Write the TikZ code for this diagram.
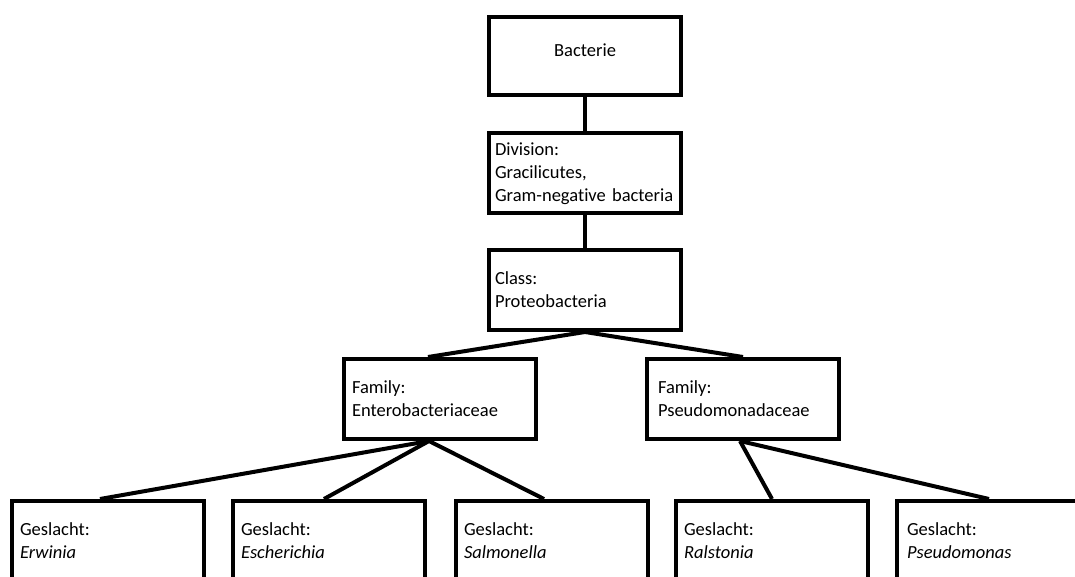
\documentclass[tikz,border=0pt]{standalone}
\usepackage{fontspec}
\setmainfont{Carlito}[Ligatures=NoCommon]
\usetikzlibrary{positioning}

\begin{document}
\begin{tikzpicture}[
  x=1pt, y=-1pt,
  box/.style={rectangle, draw, line width=4pt, minimum height=80pt, text width=180pt,
    inner xsep=6pt, inner ysep=0pt, align=left, font=\fontsize{18.5}{23}\selectfont},
  lowbox/.style={box, text width=176pt, inner xsep=8pt},
  link/.style={line width=4pt}
]
  \useasboundingbox (0,0) rectangle (1075,577);
  \clip (0,0) rectangle (1075,577);

  % top of the tree
  \node[box, align=center, minimum height=78pt, text depth=11pt] (bacterie) at (585,56) {Bacterie};
  \node[box] (division) at (585,173.5) {Division:\\Gracilicutes,\\Gram-negative bacteria};
  \node[box] (class) at (585,290) {Class:\\Proteobacteria};

  % families
  \node[lowbox] (entero) at (440,399) {Family:\\Enterobacteriaceae};
  \node[lowbox, inner xsep=11pt, text width=170pt] (pseudofam) at (743,399) {Family:\\Pseudomonadaceae};

  % genera
  \node[lowbox] (erwinia) at (108,541) {Geslacht:\\\textit{Erwinia}};
  \node[lowbox] (escherichia) at (329,541) {Geslacht:\\\textit{Escherichia}};
  \node[lowbox] (salmonella) at (552,541) {Geslacht:\\\textit{Salmonella}};
  \node[lowbox] (ralstonia) at (772,541) {Geslacht:\\\textit{Ralstonia}};
  \node[lowbox, inner xsep=10pt, text width=172pt] (pseudomonas) at (993,541) {Geslacht:\\\textit{Pseudomonas}};

  \draw[link] (bacterie) -- (division);
  \draw[link] (division) -- (class);
  \draw[link] (class.south) -- ([xshift=-12pt]entero.north);
  \draw[link] (class.south) -- (pseudofam.north);
  \draw[link] ([xshift=-11pt]entero.south) -- ([xshift=-8pt]erwinia.north);
  \draw[link] ([xshift=-11pt]entero.south) -- ([xshift=-5pt]escherichia.north);
  \draw[link] ([xshift=-11pt]entero.south) -- ([xshift=-8pt]salmonella.north);
  \draw[link] ([xshift=-3pt]pseudofam.south) -- (ralstonia.north);
  \draw[link] ([xshift=-3pt]pseudofam.south) -- ([xshift=-4pt]pseudomonas.north);
\end{tikzpicture}
\end{document}
